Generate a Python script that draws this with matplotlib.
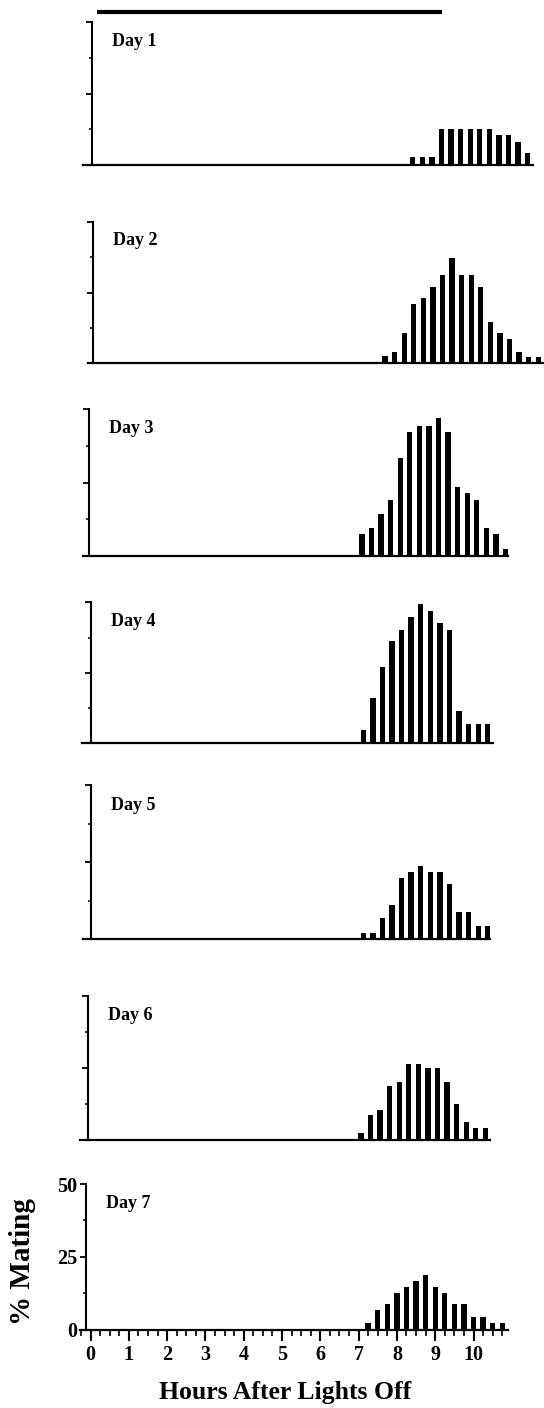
import numpy as np
import matplotlib
matplotlib.use("Agg")
import matplotlib.pyplot as plt
from matplotlib.ticker import MultipleLocator, NullFormatter


# ============================================================
# Data: % mating per 15-min bin, one series per day
# ============================================================

DAYS = ["Day 1", "Day 2", "Day 3", "Day 4", "Day 5", "Day 6", "Day 7"]

# hour of the first non-empty bin for each day
FIRST_BIN_H = [8.25, 7.5, 7.0, 7.0, 7.0, 7.0, 7.25]
BIN_H = 0.25

DAY1 = [2.7, 2.7, 2.7, 12.5, 12.5, 12.5, 12.5, 12.5, 12.5, 10.5, 10.5, 8.2, 4.1]
DAY2 = [2.6, 4.1, 10.8, 20.8, 22.9, 26.8, 31.2, 37.3, 31.2, 31.2, 26.8,
        14.5, 10.6, 8.5, 4.1, 2.4, 2.4]
DAY3 = [7.4, 9.4, 14.3, 19.1, 33.3, 42.4, 44.4, 44.4, 47.2, 42.4, 23.4,
        21.4, 19.1, 9.4, 7.4, 2.4]
DAY4 = [4.7, 16.0, 27.2, 36.1, 40.2, 44.7, 49.3, 46.9, 42.6, 40.2, 11.5,
        6.9, 6.9, 6.9]
DAY5 = [2.1, 2.1, 6.7, 11.0, 19.9, 21.6, 23.7, 21.6, 21.6, 17.7, 8.9,
        8.9, 4.2, 4.2]
DAY6 = [2.5, 8.7, 10.4, 18.8, 20.3, 26.3, 26.3, 24.9, 24.9, 20.3, 12.4,
        6.4, 4.1, 4.1]
DAY7 = [2.2, 6.6, 8.8, 12.6, 14.7, 16.8, 18.8, 14.7, 12.6, 8.8, 8.8,
        4.2, 4.2, 2.3, 2.3]

SERIES = [DAY1, DAY2, DAY3, DAY4, DAY5, DAY6, DAY7]

# scotophase bar drawn over day 1 (hours)
DARK_START_H = 0.0
DARK_END_H = 9.0

X_MAJOR = list(range(0, 11))
Y_LABELS = [0, 25, 50]


# ============================================================
# Layout (pixels of the 544x1408 page)
# ============================================================

W, H = 544, 1408
PX_PER_H = 38.3

# (y-axis x, hour-0 x, baseline left, baseline right, baseline y, top y)
PANELS = [
    (92.3, 96.8, 83, 533, 165.0, 22.3),
    (93.3, 97.8, 88, 544, 363.3, 221.7),
    (89.3, 93.8, 83, 508, 556.0, 409.3),
    (90.7, 95.2, 82, 493, 743.3, 602.3),
    (90.7, 95.2, 83, 490, 939.0, 785.0),
    (88.3, 92.8, 80, 490, 1140.0, 996.0),
    (86.0, 90.5, 80, 508, 1329.5, 1184.0),
]

SERIF = ["Liberation Serif", "DejaVu Serif"]
plt.rcParams["font.family"] = SERIF
plt.rcParams["font.weight"] = "bold"

fig = plt.figure(figsize=(W / 100, H / 100), dpi=100)

for i, (day, start, vals) in enumerate(zip(DAYS, FIRST_BIN_H, SERIES)):
    yax, zero, left, right, base, top = PANELS[i]

    ax = fig.add_axes([left / W, 1 - base / H, (right - left) / W, (base - top) / H])
    ax.set_xlim((left - zero) / PX_PER_H, (right - zero) / PX_PER_H)
    ax.set_ylim(0, 50)

    hours = start + BIN_H * np.arange(len(vals))
    ax.bar(hours, vals, width=0.14, color="black", linewidth=0)

    for s in ("top", "right"):
        ax.spines[s].set_visible(False)
    ax.spines["left"].set_position(("data", (yax - zero) / PX_PER_H))
    ax.spines["left"].set_linewidth(1.5)
    ax.spines["bottom"].set_linewidth(1.6)

    ax.yaxis.set_major_locator(MultipleLocator(25))
    ax.yaxis.set_minor_locator(MultipleLocator(12.5))
    ax.tick_params(axis="y", which="major", direction="out", length=4.5, width=1.3)
    ax.tick_params(axis="y", which="minor", direction="out", length=2.5, width=1.1)

    ax.text(0.4, 43.3, day, fontsize=13, fontweight="bold", ha="left", va="center")

    if i == 0:
        ax.plot([DARK_START_H, DARK_END_H], [53.7, 53.7], color="black", lw=3,
                solid_capstyle="butt", clip_on=False)

    if i == len(DAYS) - 1:
        ax.set_xticks(X_MAJOR)
        ax.set_xticklabels([str(v) for v in X_MAJOR])
        ax.xaxis.set_minor_locator(MultipleLocator(BIN_H))
        ax.set_xlim(ax.get_xlim())
        ax.tick_params(axis="x", which="major", direction="out", length=8, width=1.5,
                       labelsize=14.5, pad=3)
        ax.tick_params(axis="x", which="minor", direction="out", length=4.5, width=1.2)
        ax.set_yticks(Y_LABELS)
        ax.set_yticklabels([str(v) for v in Y_LABELS])
        ax.tick_params(axis="y", which="major", labelsize=14.5, pad=2)
        for lab in ax.get_xticklabels() + ax.get_yticklabels():
            lab.set_fontweight("bold")
        # hide minor ticks beyond last quarter-hour
        for tk in ax.xaxis.get_minor_ticks():
            if tk.get_loc() > 10.8:
                tk.set_visible(False)
    else:
        ax.set_xticks([])
        ax.yaxis.set_major_formatter(NullFormatter())

fig.text(22 / W, 1 - 1262 / H, "% Mating", rotation=90, fontsize=21,
         fontweight="bold", ha="center", va="center")
fig.text(285 / W, 1 - 1392 / H, "Hours After Lights Off", fontsize=18.5,
         fontweight="bold", ha="center", va="center")

fig.savefig("out.png", dpi=100)
